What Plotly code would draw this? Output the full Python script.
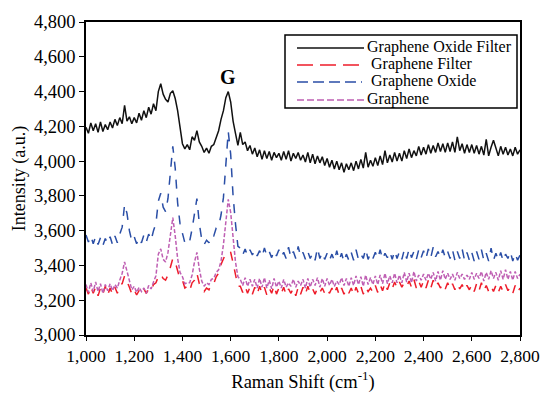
import plotly.graph_objects as go

x_start, x_step = 1000, 10
raman_shift = [x_start + i * x_step for i in range(181)]

graphene_oxide_filter = [
    4195, 4160, 4220, 4175, 4215, 4165, 4225, 4170, 4210, 4180,
    4225, 4190, 4240, 4205, 4250, 4215, 4320, 4230, 4255, 4215,
    4250, 4220, 4275, 4235, 4290, 4250, 4310, 4270, 4330, 4290,
    4400, 4445, 4385, 4355, 4340, 4390, 4405, 4360, 4290, 4200,
    4100, 4070, 4095, 4065, 4140, 4120, 4175, 4110, 4085, 4050,
    4075, 4045, 4085, 4095, 4140, 4175, 4240, 4290, 4365, 4400,
    4340, 4230, 4160, 4090, 4165, 4095, 4110, 4060, 4090, 4040,
    4075, 4025, 4065, 4010, 4060, 4015, 4055, 4005, 4050, 4020,
    4045, 4005, 4055, 4010, 4060, 4000, 4045, 4015, 4050, 4005,
    4035, 3995, 4050, 3990, 4040, 3985, 4030, 3990, 4025, 3975,
    4015, 3965, 4005, 3955, 4000, 3950, 3990, 3935, 3985, 3950,
    3990, 3945, 4000, 3955, 4010, 3960, 4050, 3965, 4005, 3970,
    4020, 3975, 4030, 3980, 4060, 3990, 4035, 3995, 4050, 4000,
    4045, 4000, 4060, 4015, 4070, 4020, 4060, 4030, 4085, 4035,
    4080, 4040, 4095, 4045, 4090, 4050, 4105, 4055, 4100, 4050,
    4105, 4055, 4110, 4050, 4140, 4060, 4100, 4045, 4095, 4050,
    4095, 4045, 4090, 4040, 4085, 4035, 4125, 4030, 4080, 4120,
    4075, 4030, 4085, 4040, 4080, 4035, 4070, 4030, 4080, 4040,
    4065,
]

graphene_filter = [
    3270, 3235, 3280, 3240, 3275, 3225, 3270, 3235, 3280, 3230,
    3270, 3235, 3275, 3240, 3290, 3295, 3340, 3310, 3275, 3235,
    3260, 3230, 3255, 3235, 3265, 3240, 3265, 3255, 3290, 3300,
    3335, 3350, 3325, 3315, 3345, 3390, 3440, 3420, 3370, 3320,
    3315, 3270, 3280, 3255, 3300, 3315, 3355, 3295, 3275, 3250,
    3270, 3260, 3295, 3295, 3335, 3355, 3405, 3435, 3470, 3480,
    3475, 3415, 3345, 3280, 3280, 3245, 3280, 3240, 3275, 3235,
    3275, 3235, 3280, 3240, 3275, 3230, 3270, 3240, 3285, 3235,
    3270, 3240, 3275, 3230, 3265, 3240, 3270, 3225, 3275, 3235,
    3275, 3235, 3280, 3240, 3265, 3235, 3270, 3245, 3270, 3240,
    3265, 3240, 3270, 3235, 3275, 3230, 3270, 3235, 3265, 3240,
    3270, 3230, 3275, 3240, 3280, 3235, 3275, 3250, 3270, 3245,
    3285, 3245, 3290, 3255, 3300, 3260, 3300, 3265, 3305, 3270,
    3305, 3275, 3300, 3280, 3310, 3275, 3320, 3270, 3310, 3275,
    3310, 3270, 3315, 3270, 3315, 3275, 3300, 3270, 3295, 3265,
    3300, 3265, 3295, 3260, 3295, 3265, 3290, 3255, 3285, 3260,
    3290, 3250, 3295, 3255, 3300, 3255, 3285, 3250, 3280, 3250,
    3285, 3245, 3280, 3250, 3290, 3255, 3275, 3240, 3285, 3245,
    3270,
]

graphene_oxide = [
    3575, 3535, 3570, 3525, 3565, 3520, 3560, 3515, 3555, 3525,
    3565, 3520, 3570, 3530, 3580, 3620, 3750, 3700, 3600, 3540,
    3565, 3525, 3560, 3530, 3575, 3535, 3580, 3545, 3600, 3640,
    3770, 3815, 3735, 3710, 3785, 3950, 4085, 3960, 3760, 3640,
    3590, 3530, 3550, 3540, 3610, 3700, 3785, 3640, 3550, 3520,
    3545, 3530, 3575, 3570, 3615, 3625, 3690, 3790, 3985, 4170,
    4040, 3800, 3640, 3510, 3500, 3460, 3495, 3455, 3490, 3460,
    3490, 3455, 3485, 3450, 3500, 3455, 3480, 3445, 3485, 3455,
    3490, 3450, 3475, 3440, 3505, 3445, 3480, 3440, 3510, 3450,
    3475, 3435, 3480, 3440, 3470, 3430, 3500, 3440, 3475, 3435,
    3470, 3430, 3465, 3425, 3485, 3430, 3470, 3420, 3465, 3430,
    3475, 3430, 3490, 3435, 3465, 3440, 3495, 3435, 3470, 3440,
    3475, 3440, 3490, 3435, 3470, 3445, 3480, 3435, 3485, 3440,
    3480, 3435, 3490, 3440, 3495, 3445, 3480, 3435, 3490, 3445,
    3485, 3440, 3495, 3445, 3505, 3450, 3480, 3445, 3490, 3445,
    3480, 3440, 3490, 3430, 3480, 3440, 3495, 3430, 3475, 3430,
    3475, 3425, 3480, 3435, 3490, 3430, 3470, 3425, 3500, 3430,
    3470, 3430, 3475, 3425, 3465, 3440, 3480, 3425, 3470, 3430,
    3460,
]

graphene = [
    3290, 3245, 3300, 3250, 3305, 3250, 3295, 3240, 3290, 3255,
    3295, 3255, 3290, 3270, 3315, 3355, 3420, 3370, 3305, 3260,
    3280, 3245, 3275, 3250, 3270, 3240, 3285, 3265, 3305, 3340,
    3465, 3495, 3435, 3420, 3475, 3580, 3675, 3570, 3440, 3360,
    3335, 3295, 3300, 3300, 3345, 3420, 3475, 3380, 3310, 3280,
    3300, 3290, 3320, 3325, 3360, 3375, 3425, 3520, 3650, 3780,
    3705, 3555, 3420, 3335, 3320, 3285, 3330, 3280, 3320, 3280,
    3320, 3270, 3325, 3275, 3330, 3270, 3315, 3265, 3325, 3275,
    3310, 3270, 3320, 3275, 3300, 3280, 3320, 3275, 3310, 3285,
    3320, 3270, 3325, 3275, 3320, 3285, 3330, 3275, 3325, 3280,
    3325, 3285, 3320, 3280, 3310, 3290, 3330, 3285, 3325, 3280,
    3330, 3285, 3340, 3290, 3335, 3280, 3345, 3290, 3330, 3290,
    3340, 3290, 3345, 3295, 3355, 3295, 3340, 3300, 3355, 3300,
    3345, 3300, 3360, 3305, 3355, 3300, 3365, 3310, 3345, 3315,
    3350, 3315, 3355, 3320, 3360, 3310, 3365, 3315, 3370, 3320,
    3355, 3320, 3350, 3315, 3360, 3325, 3350, 3320, 3345, 3320,
    3360, 3320, 3355, 3325, 3365, 3310, 3360, 3320, 3370, 3325,
    3360, 3315, 3370, 3320, 3375, 3320, 3365, 3315, 3365, 3325,
    3350,
]

x_ticks = [1000, 1200, 1400, 1600, 1800, 2000, 2200, 2400, 2600, 2800]
y_ticks = [3000, 3200, 3400, 3600, 3800, 4000, 4200, 4400, 4600, 4800]

FONT = "Liberation Serif, Times New Roman, Times, serif"

# plot area in pixels (for placing the hand-drawn legend box)
W, H = 543, 393
ML, MR, MT, MB = 86, 23, 22, 58
PW, PH = W - ML - MR, H - MT - MB


def px(x):
    return (x - ML) / PW


def py(y):
    return (H - MB - y) / PH


series = [
    ("Graphene Oxide Filter", graphene_oxide_filter, "#111111", "solid"),
    ("Graphene Filter", graphene_filter, "#ee1c2a", "dash"),
    ("Graphene Oxide", graphene_oxide, "#2a4ea6", "dash"),
    ("Graphene", graphene, "#bf5fb3", "4px,2px"),
]

fig = go.Figure()
for name, vals, color, dash in series:
    fig.add_trace(go.Scatter(x=raman_shift, y=vals, mode="lines", name=name,
                             line=dict(color=color, width=1.5, dash=dash)))

fig.add_annotation(x=1590, y=4484, text="<b>G</b>", showarrow=False,
                   font=dict(family=FONT, size=20, color="black"),
                   xanchor="center", yanchor="middle")

# legend box drawn as shapes + text
fig.add_shape(type="rect", xref="paper", yref="paper",
              x0=px(285), x1=px(517), y0=py(108), y1=py(35),
              line=dict(color="black", width=1.5), fillcolor="white",
              layer="above")
leg_rows = [47, 64, 81, 99]
leg_dash = ["solid", "16px,7px", "11px,5px", "7px,3px"]
leg_line_end = [364, 360, 362, 364]
leg_text_x = [365, 369, 369, 365]
for (name, _, color, _), yy, dsh, xe, tx in zip(series, leg_rows, leg_dash,
                                                leg_line_end, leg_text_x):
    fig.add_shape(type="line", xref="paper", yref="paper",
                  x0=px(297), x1=px(xe), y0=py(yy + 1), y1=py(yy + 1),
                  line=dict(color=color, width=1.5, dash=dsh), layer="above")
    fig.add_annotation(xref="paper", yref="paper", x=px(tx), y=py(yy),
                       text=name, showarrow=False, xanchor="left",
                       yanchor="middle",
                       font=dict(family=FONT, size=16, color="black"))

fig.update_layout(
    width=W, height=H,
    margin=dict(l=ML, r=MR, t=MT, b=MB, autoexpand=False),
    paper_bgcolor="white", plot_bgcolor="white",
    font=dict(family=FONT, size=16, color="black"),
    showlegend=False,
    xaxis=dict(range=[1000, 2800], tickvals=x_ticks,
               ticktext=[f"{v:,}" for v in x_ticks],
               tickfont=dict(family=FONT, size=17.5), automargin=False,
               showline=True, linecolor="black", linewidth=1.5, mirror=True,
               ticks="outside", ticklen=4, tickcolor="black", showgrid=False,
               zeroline=False,
               title=dict(text="Raman Shift (cm<sup>-1</sup>)",
                          font=dict(family=FONT, size=18.5), standoff=10)),
    yaxis=dict(range=[3000, 4800], tickvals=y_ticks,
               ticktext=[f"{v:,}" for v in y_ticks],
               tickfont=dict(family=FONT, size=18.5), automargin=False,
               showline=True, linecolor="black", linewidth=1.5, mirror=True,
               ticks="outside", ticklen=5, tickcolor="black", showgrid=False,
               zeroline=False,
               title=dict(text="Intensity (a.u.)",
                          font=dict(family=FONT, size=18), standoff=4)),
)

fig.write_html("out.html")
